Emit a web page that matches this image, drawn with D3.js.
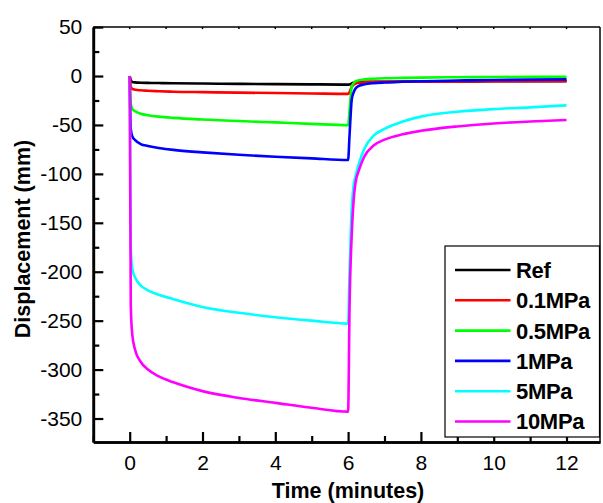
<!DOCTYPE html>
<html>
<head>
<meta charset="utf-8">
<script src="https://cdn.jsdelivr.net/npm/d3@7"></script>
<style>
  html, body { margin: 0; padding: 0; background: #fff; }
  svg { display: block; font-family: "Liberation Sans", Arial, sans-serif; }
</style>
</head>
<body>
<svg id="chart" width="603" height="503"></svg>
<script>
// Sampling times (minutes)
const timeMin = [0, 0.03, 0.07, 0.15, 0.3, 0.5, 0.8, 1.2, 2, 3, 4, 5, 6,
                 6.04, 6.1, 6.15, 6.2, 6.3, 6.45, 6.7, 7, 7.5, 8, 9, 10, 11, 12];

// Displacement (mm) for each loading case
const dispRef  = [0, -4.5, -6, -6.5, -6.8, -7, -7.2, -7.4, -7.7, -8, -8.3, -8.5, -8.8,
                  -8.6, -7.5, -6.9, -6.5, -6.2, -6, -5.9, -5.8, -5.7, -5.6, -5.5, -5.4, -5.3, -5.2];
const disp01   = [0, -11, -13.2, -14, -14.6, -15, -15.5, -16, -16.5, -17, -17.4, -17.8, -18.2,
                  -16.5, -11, -9, -7.8, -7, -6.5, -6.2, -6, -5.8, -5.7, -5.5, -5.3, -5.2, -5.1];
const disp05   = [0, -29, -33.5, -36, -38.5, -40, -41.5, -42.8, -44.5, -46, -47.4, -48.9, -50.3,
                  -35, -11, -7.5, -5.5, -4.3, -3.4, -2.8, -2.3, -1.9, -1.6, -1.2, -1, -0.8, -0.7];
const disp1    = [0, -54, -61.5, -65.5, -69.5, -71.5, -73.5, -75.5, -78, -80.5, -82.5, -84.2, -85.8,
                  -60, -24, -17, -13, -10, -8.5, -7.3, -6.6, -5.9, -5.3, -4.6, -4.1, -3.7, -3.4];
const disp5    = [0, -175, -197, -206, -214, -219, -223.5, -228, -236, -242, -246.5, -250, -253,
                  -200, -135, -112, -103, -89, -74, -61, -54, -46.5, -41.5, -36.5, -33.8, -32, -30];
const disp10   = [0, -235, -264, -280, -292, -300, -307, -313, -322, -329, -334, -339, -343,
                  -235, -162, -128, -110, -96, -82, -71, -65, -59.5, -56, -51.5, -48.5, -46.5, -44.9];

const seriesNames  = ["Ref", "0.1MPa", "0.5MPa", "1MPa", "5MPa", "10MPa"];
const seriesValues = [dispRef, disp01, disp05, disp1, disp5, disp10];
const seriesColors = ["#000000", "#ff0000", "#00ff00", "#0000ff", "#00ffff", "#ff00ff"];

// Axis ticks
const xMajorTicks = [0, 2, 4, 6, 8, 10, 12];
const xMinorTicks = [-1, 1, 3, 5, 7, 9, 11];
const yMajorTicks = [50, 0, -50, -100, -150, -200, -250, -300, -350];
const yMinorTicks = [25, -25, -75, -125, -175, -225, -275, -325];

const svg = d3.select("#chart");

const x = d3.scaleLinear().domain([-1, 12.92]).range([93.3, 600]);
const y = d3.scaleLinear().domain([-374, 50]).range([442, 27.1]);

const fmt = d => String(d);

// Thin top and right frame with tiny unit ticks
const frame = svg.append("g");
frame.append("line")
  .attr("x1", x.range()[0]).attr("x2", x.range()[1])
  .attr("y1", y.range()[1]).attr("y2", y.range()[1])
  .attr("stroke", "#000").attr("stroke-width", 1.5);
frame.append("line")
  .attr("x1", x.range()[1]).attr("x2", x.range()[1])
  .attr("y1", y.range()[1]).attr("y2", y.range()[0])
  .attr("stroke", "#000").attr("stroke-width", 1.5);
const topTicks = d3.range(0, 13, 1);
frame.selectAll(".tt").data(topTicks).join("line")
  .attr("x1", d => x(d)).attr("x2", d => x(d))
  .attr("y1", y.range()[1]).attr("y2", y.range()[1] + 2)
  .attr("stroke", "#000").attr("stroke-width", 1.5);

// Data lines
const line = d3.line()
  .x((d, i) => x(timeMin[i]))
  .y(d => y(d))
  .curve(d3.curveMonotoneX);

const lines = svg.append("g");
seriesValues.forEach((vals, k) => {
  lines.append("path")
    .attr("d", line(vals))
    .attr("fill", "none")
    .attr("stroke", seriesColors[k])
    .attr("stroke-width", 2.6)
    .attr("stroke-linejoin", "round");
});

// Bottom axis
const xAxisG = svg.append("g").attr("transform", `translate(0,${y.range()[0]})`);
xAxisG.call(d3.axisBottom(x).tickValues(xMajorTicks).tickFormat(fmt)
  .tickSizeInner(-10).tickSizeOuter(0).tickPadding(13));
const xMinorG = svg.append("g").attr("transform", `translate(0,${y.range()[0]})`);
xMinorG.call(d3.axisBottom(x).tickValues(xMinorTicks).tickFormat("")
  .tickSizeInner(-6).tickSizeOuter(0));

// Left axis
const yAxisG = svg.append("g").attr("transform", `translate(${x.range()[0]},0)`);
yAxisG.call(d3.axisLeft(y).tickValues(yMajorTicks).tickFormat(fmt)
  .tickSizeInner(-10).tickSizeOuter(0).tickPadding(11));
const yMinorG = svg.append("g").attr("transform", `translate(${x.range()[0]},0)`);
yMinorG.call(d3.axisLeft(y).tickValues(yMinorTicks).tickFormat("")
  .tickSizeInner(-6).tickSizeOuter(0));

[xAxisG, xMinorG, yAxisG, yMinorG].forEach(g => {
  g.select(".domain").attr("stroke", "#000").attr("stroke-width", 2.6);
  g.selectAll(".tick line").attr("stroke", "#000").attr("stroke-width", 2.2);
  g.selectAll(".tick text")
    .attr("fill", "#000")
    .style("font-family", "'Liberation Sans', Arial, sans-serif")
    .style("font-size", "21px");
});

// Axis titles
svg.append("text")
  .attr("x", 348).attr("y", 498)
  .attr("text-anchor", "middle")
  .style("font-size", "21.5px").style("font-weight", "bold")
  .text("Time (minutes)");

svg.append("text")
  .attr("transform", "translate(30,239) rotate(-90)")
  .attr("text-anchor", "middle")
  .style("font-size", "21.5px").style("font-weight", "bold")
  .text("Displacement (mm)");

// Legend
const legend = svg.append("g");
legend.append("rect")
  .attr("x", 445).attr("y", 246).attr("width", 154.5).attr("height", 191)
  .attr("fill", "#fff").attr("stroke", "#000").attr("stroke-width", 1.2);
const legendY = d3.scalePoint().domain(seriesNames).range([270, 421.5]);
seriesNames.forEach((name, k) => {
  const ly = legendY(name);
  legend.append("line")
    .attr("x1", 455).attr("x2", 510.5)
    .attr("y1", ly).attr("y2", ly)
    .attr("stroke", seriesColors[k]).attr("stroke-width", 2.6);
  legend.append("text")
    .attr("x", 516).attr("y", ly)
    .attr("dy", "0.36em")
    .style("font-size", "22px").style("font-weight", "bold")
    .style("letter-spacing", "-0.3px")
    .text(name);
});
</script>
</body>
</html>
